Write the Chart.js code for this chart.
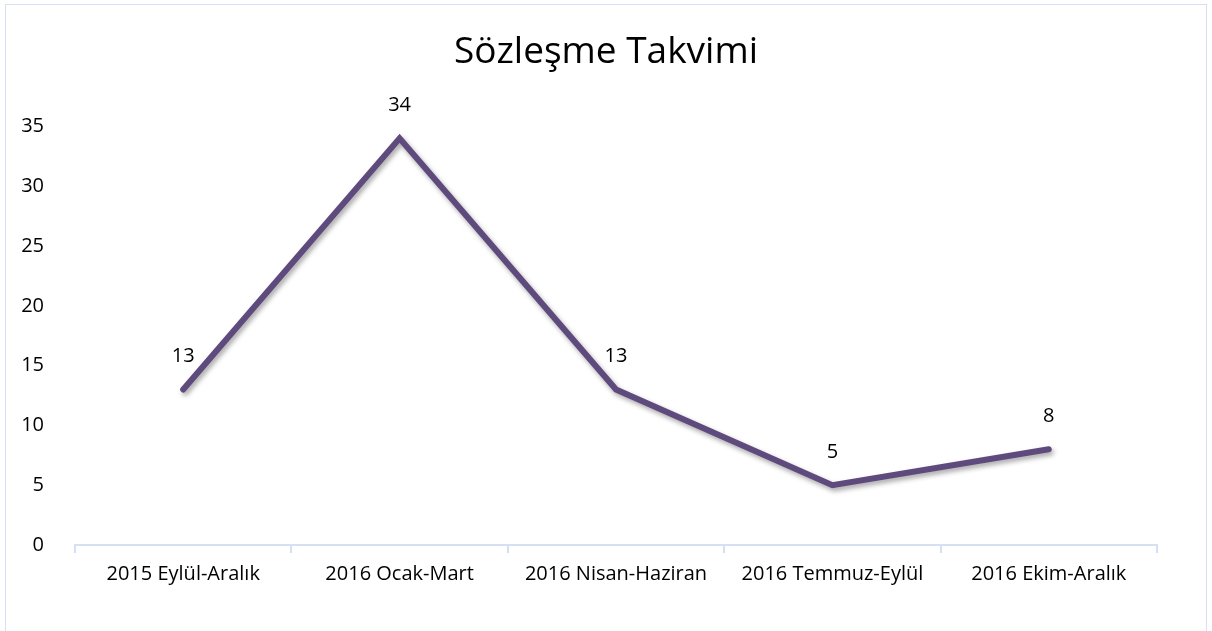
<!DOCTYPE html>
<html>
<head>
<meta charset="utf-8">
<script src="https://cdn.jsdelivr.net/npm/chart.js@4/dist/chart.umd.min.js"></script>
<style>
  html, body { margin: 0; padding: 0; background: #fff; overflow: hidden; }
  #wrap { position: relative; width: 1212px; height: 631px; }
  #frame { position: absolute; left: 5px; top: 4px; width: 1200px; height: 700px; border: 1px solid #d5e1f2; }
  canvas { position: absolute; left: 0; top: 0; }
</style>
</head>
<body>
<div id="wrap">
  <div id="frame"></div>
  <canvas id="chart" width="1212" height="631"></canvas>
</div>
<script>
const categories = ['2015 Eylül-Aralık', '2016 Ocak-Mart', '2016 Nisan-Haziran', '2016 Temmuz-Eylül', '2016 Ekim-Aralık'];
const values = [13, 34, 13, 5, 8];
const yTicks = [0, 5, 10, 15, 20, 25, 30, 35];

const fontFamily = '"Open Sans", Lato, sans-serif';
const axisBlue = '#d5e1f2';

// soft drop shadow under the line, like the office chart
const lineShadow = {
  id: 'lineShadow',
  beforeDatasetDraw(chart) {
    const ctx = chart.ctx;
    ctx.save();
    ctx.shadowColor = 'rgba(0,0,0,0.35)';
    ctx.shadowBlur = 5;
    ctx.shadowOffsetX = 2;
    ctx.shadowOffsetY = 3;
  },
  afterDatasetDraw(chart) {
    chart.ctx.restore();
  }
};

// value labels above each point
const valueLabels = {
  id: 'valueLabels',
  afterDatasetsDraw(chart) {
    const ctx = chart.ctx;
    const meta = chart.getDatasetMeta(0);
    ctx.save();
    ctx.font = '20px ' + fontFamily;
    ctx.fillStyle = '#000';
    ctx.textAlign = 'center';
    ctx.textBaseline = 'middle';
    meta.data.forEach((pt, i) => {
      ctx.fillText(String(values[i]), pt.x, pt.y - 33);
    });
    ctx.restore();
  }
};

new Chart(document.getElementById('chart'), {
  type: 'line',
  data: {
    labels: categories,
    datasets: [{
      data: values,
      borderColor: '#5f4a7d',
      borderWidth: 6,
      borderCapStyle: 'round',
      borderJoinStyle: 'miter',
      pointRadius: 0,
      tension: 0
    }]
  },
  options: {
    responsive: false,
    animation: false,
    layout: { padding: { left: 0, right: 0, top: 0, bottom: 36 } },
    plugins: {
      legend: { display: false },
      tooltip: { enabled: false },
      title: {
        display: true,
        text: 'Sözleşme Takvimi',
        color: '#000',
        font: { family: fontFamily, size: 37, weight: 'normal' },
        padding: { top: 30, bottom: 52 }
      }
    },
    scales: {
      x: {
        offset: true,
        grid: { display: true, offset: true, drawOnChartArea: false, drawTicks: true, tickLength: 8, color: axisBlue, lineWidth: 2 },
        border: { display: true, color: axisBlue, width: 2 },
        ticks: { color: '#000', font: { family: fontFamily, size: 20 }, padding: 9, maxRotation: 0 },
        afterFit(scale) { scale.height = 50; }
      },
      y: {
        min: 0,
        max: 35,
        afterBuildTicks(scale) { scale.ticks = yTicks.map(v => ({ value: v })); },
        grid: { display: false },
        border: { display: false },
        ticks: { color: '#000', font: { family: fontFamily, size: 20 }, padding: 23 },
        afterFit(scale) { scale.width = 75; }
      },
      // empty right-hand axis, only there to leave the right margin
      yRight: {
        position: 'right',
        grid: { display: false },
        border: { display: false },
        ticks: { display: false },
        afterFit(scale) { scale.width = 55; }
      }
    }
  },
  plugins: [lineShadow, valueLabels]
});
</script>
</body>
</html>
